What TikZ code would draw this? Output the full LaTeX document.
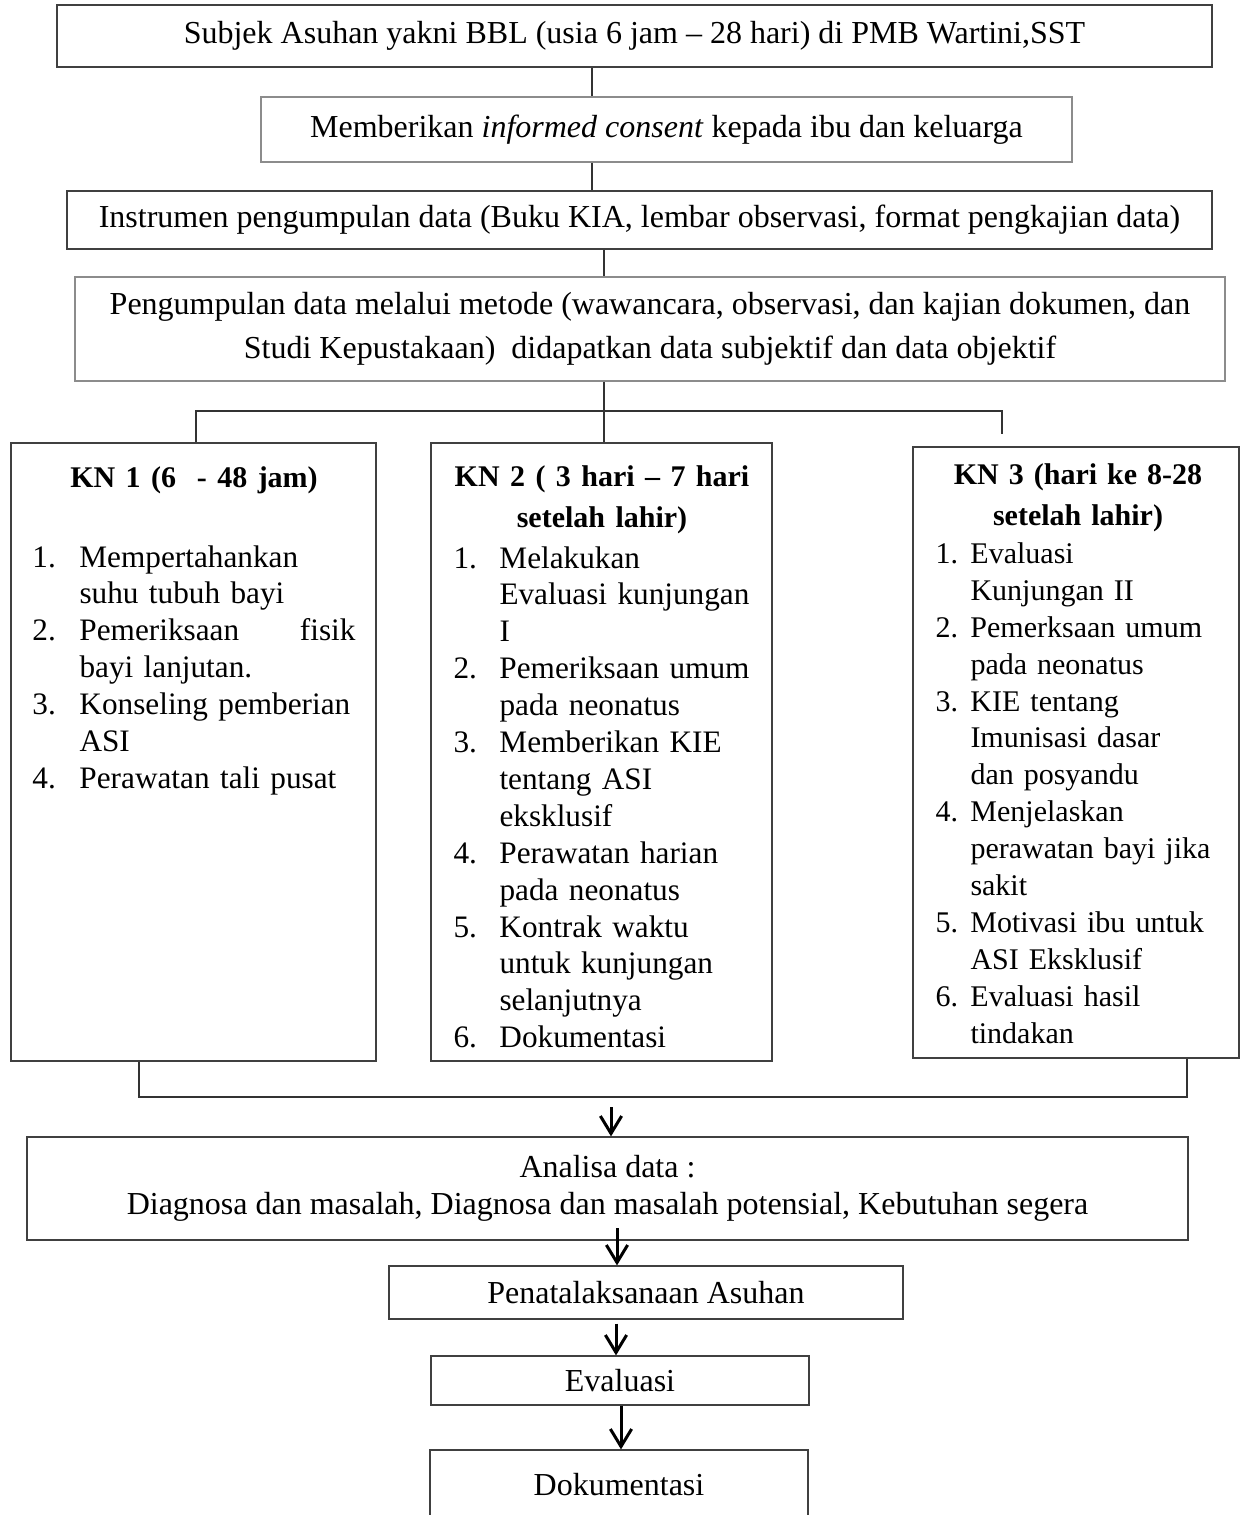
\documentclass[tikz,border=0pt]{standalone}
\usepackage{fontspec}
\setmainfont{Liberation Serif}
\usetikzlibrary{arrows.meta}

\newdimen\numw
\newcommand{\nb}[1]{\makebox[\numw][l]{#1}}
\newcommand{\kntitle}[1]{\makebox[\hsize]{\fontsize{12}{14.76}\selectfont\bfseries #1}}

\begin{document}
\begin{tikzpicture}[x=0.4pt,y=-0.4pt,
  >={Straight Barb[length=7pt,width=8.5pt]},
  font=\fontsize{12.8}{15}\selectfont,
  box/.style={draw=black!75,line width=0.5pt,inner sep=0pt},
  softbox/.style={box,draw=black!45},
  link/.style={draw=black!80,line width=0.5pt},
  flow/.style={->,line width=1.2pt},
  listtext/.style={anchor=base west,inner sep=0pt,align=left,font=\fontsize{12.5}{14.76}\selectfont}]
\useasboundingbox (0,0) rectangle (1240,1515);
\clip (0,0) rectangle (1240,1515);
\fill[white] (0,0) rectangle (1240,1515);

\node (subjek) [box,line width=0.8pt,minimum width=462pt,minimum height=24.8pt] at (634.5,36) {Subjek Asuhan yakni BBL (usia 6 jam – 28 hari) di PMB Wartini,SST};
\node (consent) [softbox,minimum width=324.4pt,minimum height=26pt] at (666.5,129.5) {Memberikan \textit{informed consent} kepada ibu dan keluarga};
\node (instrumen) [box,minimum width=458pt,minimum height=23.2pt] at (639.5,220) {Instrumen pengumpulan data (Buku KIA, lembar observasi, format pengkajian data)};
\node (pengumpulan) [softbox,align=center,minimum width=460pt,minimum height=41.6pt] at (650,329) {Pengumpulan data melalui metode (wawancara, observasi, dan kajian dokumen, dan\\[2.6pt] Studi Kepustakaan)\ \ didapatkan data subjektif dan data objektif};

\node (kn1) [box,minimum width=146pt,minimum height=247.2pt] at (193.5,752) {};
\node (kn2) [box,minimum width=136.4pt,minimum height=247.2pt] at (601.5,752) {};
\node (kn3) [box,minimum width=130.4pt,minimum height=244.4pt] at (1076,752.5) {};

% isi kunjungan neonatus
\node (kn1list) [listtext,text width=129.2pt] at (32,487) {\numw=18.8pt
\kntitle{KN 1 (6\ \ - 48 jam)}\\[17.24pt]
\nb{1.}Mempertahankan\\
\nb{}suhu tubuh bayi\\
\nb{2.}\makebox[110.4pt]{Pemeriksaan\hfill fisik}\\
\nb{}bayi lanjutan.\\
\nb{3.}Konseling pemberian\\
\nb{}ASI\\
\nb{4.}Perawatan tali pusat};
\node (kn2list) [listtext,text width=118.8pt] at (453,486) {\numw=18.4pt
\kntitle{KN 2 ( 3 hari – 7 hari}\\[1.64pt]
\kntitle{setelah lahir)}\\[1.64pt]
\nb{1.}Melakukan\\
\nb{}Evaluasi kunjungan\\
\nb{}I\\
\nb{2.}Pemeriksaan umum\\
\nb{}pada neonatus\\
\nb{3.}Memberikan KIE\\
\nb{}tentang ASI\\
\nb{}eksklusif\\
\nb{4.}Perawatan harian\\
\nb{}pada neonatus\\
\nb{5.}Kontrak waktu\\
\nb{}untuk kunjungan\\
\nb{}selanjutnya\\
\nb{6.}Dokumentasi};
\node (kn3list) [listtext,text width=114pt,font=\fontsize{12}{14.76}\selectfont] at (935,484) {\numw=14pt
\kntitle{KN 3 (hari ke 8-28}\\[1.64pt]
\kntitle{setelah lahir)}\\[0.6pt]
\nb{1.}Evaluasi\\
\nb{}Kunjungan II\\
\nb{2.}Pemerksaan umum\\
\nb{}pada neonatus\\
\nb{3.}KIE tentang\\
\nb{}Imunisasi dasar\\
\nb{}dan posyandu\\
\nb{4.}Menjelaskan\\
\nb{}perawatan bayi jika\\
\nb{}sakit\\
\nb{5.}Motivasi ibu untuk\\
\nb{}ASI Eksklusif\\
\nb{6.}Evaluasi hasil\\
\nb{}tindakan};

\node (analisa) [box,align=center,minimum width=464.4pt,minimum height=41.2pt] at (607.5,1188.5) {Analisa data :\\ Diagnosa dan masalah, Diagnosa dan masalah potensial, Kebutuhan segera};
\node (plan) [box,minimum width=205.6pt,minimum height=21.2pt] at (646,1292.5) {Penatalaksanaan Asuhan};
\node (evaluasi) [box,minimum width=151.2pt,minimum height=19.6pt] at (620,1380.5) {Evaluasi};
\node (dokumentasi) [box,minimum width=151.2pt,minimum height=28pt] at (619,1485) {Dokumentasi};

% garis penghubung
\coordinate (spineA) at (592,0);
\coordinate (spineB) at (604,0);
\draw[link] (subjek.south -| spineA) -- (consent.north -| spineA);
\draw[link] (consent.south -| spineA) -- (instrumen.north -| spineA);
\draw[link] (instrumen.south -| spineB) -- (pengumpulan.north -| spineB);
\draw[link] (pengumpulan.south -| spineB) -- (kn2.north -| spineB);
\coordinate (splitL) at (196,411);
\coordinate (splitR) at (1002,411);
\coordinate (stubR) at (1002,434);
\draw[link] (kn1.north -| splitL) -- (splitL) -- (splitR) -- (stubR);

\coordinate (joinL) at (139,1097);
\coordinate (joinR) at (1187,1097);
\draw[link] (kn1.south -| joinL) -- (joinL) -- (joinR) -- (kn3.south -| joinR);

\coordinate (arrA) at (611,1107);
\coordinate (arrB) at (617,1228);
\coordinate (arrC) at (616,0);
\coordinate (arrD) at (621,0);
\draw[flow] (arrA) -- (analisa.north -| arrA);
\draw[flow] (arrB) -- (plan.north -| arrB);
\draw[flow,shorten <=1.6pt] (plan.south -| arrC) -- (evaluasi.north -| arrC);
\draw[flow] (evaluasi.south -| arrD) -- (dokumentasi.north -| arrD);

\end{tikzpicture}
\end{document}
